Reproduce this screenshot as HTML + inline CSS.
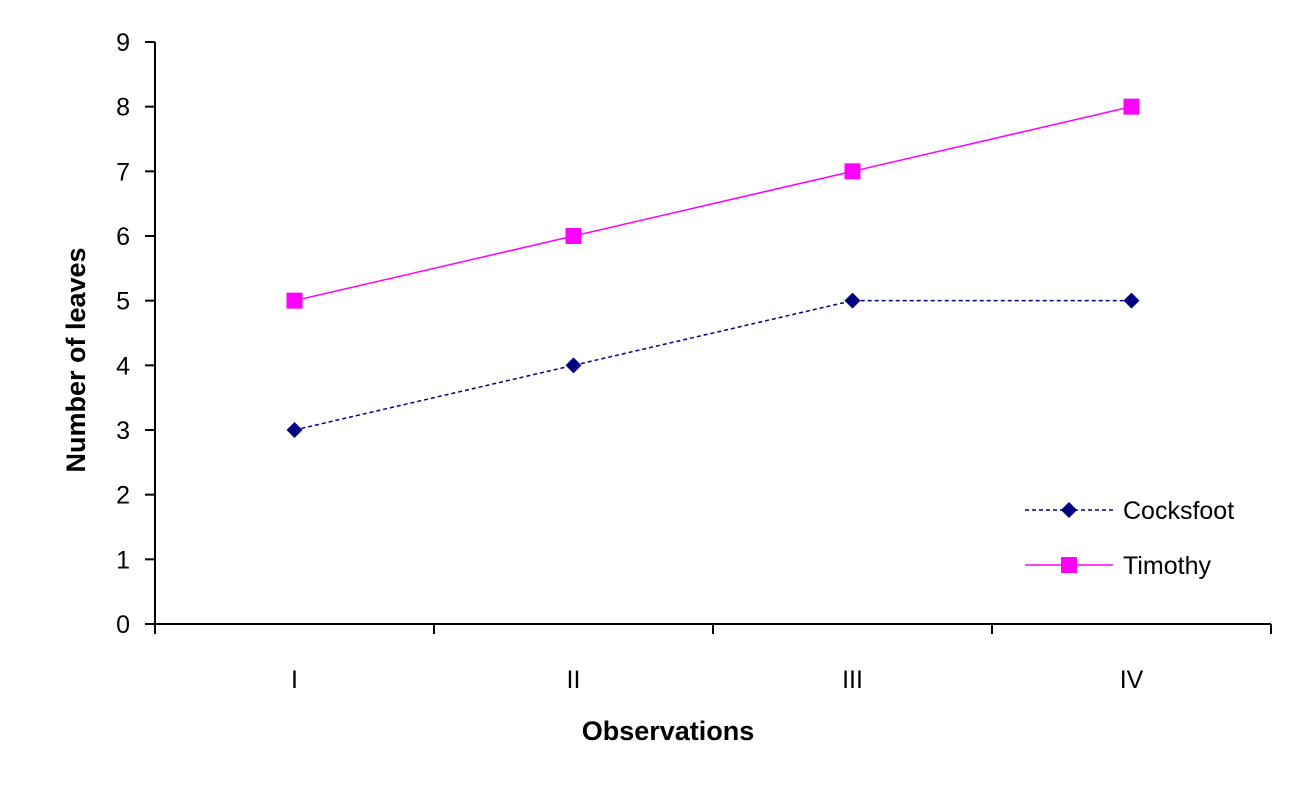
<!DOCTYPE html>
<html><head><meta charset="utf-8"><style>
body{margin:0;background:#fff;width:1293px;height:804px;overflow:hidden}
svg{font-family:"Liberation Sans",Arial,sans-serif}
</style></head><body>
<svg id="chart" width="1293" height="804">
<g id="axes"></g>
<g id="series"></g>
<text x="668" y="740" font-size="27" font-weight="bold" text-anchor="middle">Observations</text>
<text transform="translate(85,360) rotate(-90)" font-size="27" font-weight="bold" text-anchor="middle">Number of leaves</text>
<g>
<g>
<line x1="1025" y1="510" x2="1113" y2="510" stroke="#000080" stroke-width="1.5" stroke-dasharray="4,3"/>
<path d="M1069 502 L1077 510 L1069 518 L1061 510Z" fill="#000080"/>
<text x="1123" y="519" font-size="25" fill="#000">Cocksfoot</text></g>
<g>
<line x1="1025" y1="565" x2="1113" y2="565" stroke="#ff00ff" stroke-width="1.5"/>
<rect x="1061" y="557" width="16" height="16" fill="#ff00ff"/>
<text x="1123" y="574" font-size="25" fill="#000">Timothy</text></g>
</g>
</svg>
<script>
const categories=["I","II","III","IV"];
const cocksfoot=[3,4,5,5];
const timothy=[5,6,7,8];
const yTicks=[0,1,2,3,4,5,6,7,8,9];
const NS="http://www.w3.org/2000/svg";
const x0=155,x1=1271,y0=624,y1=42,yMax=9;
const bw=(x1-x0)/categories.length;
function xs(i){return x0+bw*(i+0.5);}
function ys(v){return y0-(y0-y1)*v/yMax;}
function mk(t,a,p){const e=document.createElementNS(NS,t);for(const k in a)e.setAttribute(k,a[k]);p.appendChild(e);return e;}
const ax=document.getElementById('axes');
const yl=mk('line',{x1:x0,y1:y1,x2:x0,y2:y0,stroke:'#000','stroke-width':2},ax);


const xl=mk('line',{x1:x0-10,y1:y0,x2:x1,y2:y0,stroke:'#000','stroke-width':2},ax);


yTicks.forEach(v=>{
 mk('line',{x1:x0-10,y1:ys(v),x2:x0,y2:ys(v),stroke:'#000','stroke-width':2},ax);
 const t=mk('text',{x:130,y:ys(v)+9,'font-size':25,'text-anchor':'end'},ax);t.textContent=v;
 
 
});
for(let i=0;i<=categories.length;i++){mk('line',{x1:x0+bw*i,y1:y0,x2:x0+bw*i,y2:y0+10,stroke:'#000','stroke-width':2},ax);}
categories.forEach((c,i)=>{
 const t=mk('text',{x:xs(i),y:688,'font-size':25,'text-anchor':'middle'},ax);t.textContent=c;
 
 
});
const sg=document.getElementById('series');
function line(vals,color,dash){
 const pts=vals.map((v,i)=>xs(i)+','+ys(v)).join(' ');
 const p=mk('polyline',{points:pts,fill:'none',stroke:color,'stroke-width':1.5},sg);
 if(dash)p.setAttribute('stroke-dasharray',dash);
 return p;
}
const l1=line(cocksfoot,'#000080','4,3');


const l2=line(timothy,'#ff00ff',null);


cocksfoot.forEach((v,i)=>{
 const x=xs(i),y=ys(v);
 const m=mk('path',{d:`M${x} ${y-8} L${x+8} ${y} L${x} ${y+8} L${x-8} ${y}Z`,fill:'#000080'},sg);
 
 
});
timothy.forEach((v,i)=>{
 const m=mk('rect',{x:xs(i)-8,y:ys(v)-8,width:16,height:16,fill:'#ff00ff'},sg);
 
 
});
</script>
</body></html>
